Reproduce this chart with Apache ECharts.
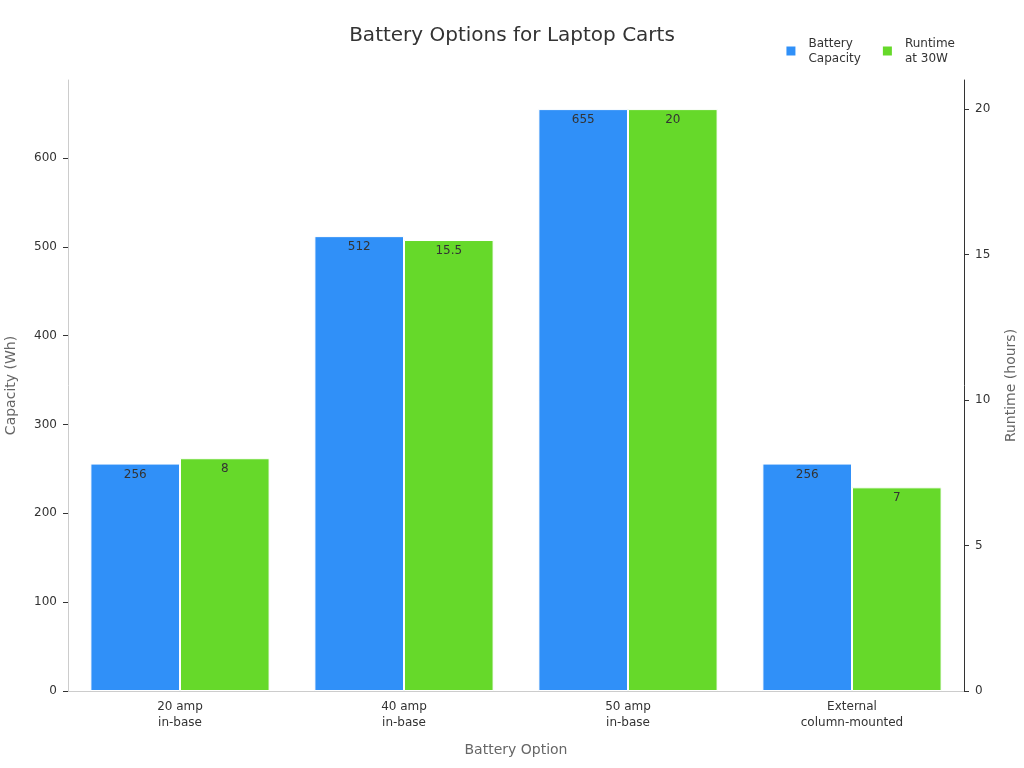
<!DOCTYPE html>
<html><head><meta charset="utf-8">
<script src="https://cdn.jsdelivr.net/npm/echarts@6/dist/echarts.min.js"></script>
<style>html,body{margin:0;padding:0}#c{width:1024px;height:768px}</style>
</head><body><div id="c"></div>
<script>
const categories = ["20 amp\nin-base","40 amp\nin-base","50 amp\nin-base","External\ncolumn-mounted"];
const capacity = [256,512,655,256];
const runtime = [8,15.5,20,7];
const chart = echarts.init(document.getElementById('c'));
const font = "DejaVu Sans";
chart.setOption({
  textStyle:{fontFamily:font},
  title:{text:"Battery Options for Laptop Carts",left:'center',top:21,textStyle:{fontFamily:font,fontSize:20,fontWeight:'normal',color:'#333'}},
  legend:{top:31,right:64,itemWidth:11,itemHeight:11,itemGap:20,textStyle:{fontFamily:font,fontSize:12,color:'#333',lineHeight:15,padding:[0,0,0,7]},
    data:[{name:"Battery\nCapacity",icon:'rect'},{name:"Runtime\nat 30W",icon:'rect'}]},
  grid:{left:68,right:60,top:80,bottom:77,containLabel:false,outerBoundsMode:'none'},
  xAxis:{type:'category',data:categories,name:"Battery Option",nameLocation:'middle',nameGap:52,
    nameTextStyle:{fontSize:14,color:'#666'},axisTick:{show:false},
    axisLine:{lineStyle:{color:'#ccc'}},axisLabel:{color:'#333',fontSize:12,lineHeight:16}},
  yAxis:[
    {type:'value',min:0,max:687.75,interval:100,name:"Capacity (Wh)",nameLocation:'middle',nameGap:50,
     nameTextStyle:{fontSize:14,color:'#666'},splitLine:{show:false},
     axisLine:{show:true,lineStyle:{color:'#ccc'}},axisTick:{show:true,lineStyle:{color:'#333'}},
     axisLabel:{color:'#333',fontSize:12,showMaxLabel:false,margin:11}},
    {type:'value',min:0,max:21,interval:5,name:"Runtime (hours)",nameLocation:'middle',nameGap:40,
     nameTextStyle:{fontSize:14,color:'#666'},splitLine:{show:false},
     axisLine:{show:true,lineStyle:{color:'#333'}},axisTick:{show:true,lineStyle:{color:'#333'}},
     axisLabel:{color:'#333',fontSize:12,showMaxLabel:false,margin:11}}
  ],
  series:[
    {name:"Battery\nCapacity",type:'bar',data:capacity,yAxisIndex:0,barGap:'0%',barCategoryGap:'20%',
     itemStyle:{color:'#3090F8',borderColor:'#fff',borderWidth:1},
     label:{show:true,position:'insideTop',color:'#333',fontSize:12}},
    {name:"Runtime\nat 30W",type:'bar',data:runtime,yAxisIndex:1,
     itemStyle:{color:'#66D92A',borderColor:'#fff',borderWidth:1},
     label:{show:true,position:'insideTop',color:'#333',fontSize:12}}
  ]
});
</script></body></html>
